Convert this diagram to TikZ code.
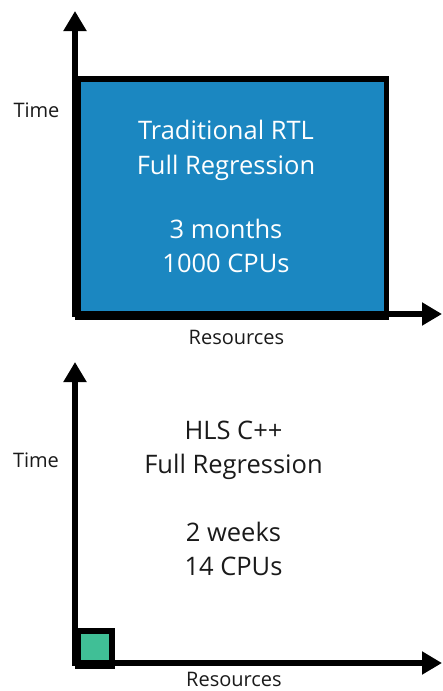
\documentclass[tikz,border=0pt]{standalone}
\usepackage{fontspec}
\setmainfont{Open Sans}
\usetikzlibrary{arrows.meta}
\definecolor{rtlblue}{RGB}{27,135,193}
\definecolor{hlsgreen}{RGB}{64,191,150}
\definecolor{txtdark}{RGB}{26,26,26}
\tikzset{
  axis/.style={line width=5.5pt, line join=miter, {Triangle[width=22pt,length=20pt]}-{Triangle[width=22pt,length=20pt]}},
  bigtext/.style={anchor=base, inner sep=0pt, font=\fontsize{25.5}{30}\selectfont},
  labeltext/.style={anchor=base, inner sep=0pt, text=txtdark, font=\fontsize{20}{24}\selectfont},
}
\begin{document}
\begin{tikzpicture}[x=1pt,y=-1pt]
\useasboundingbox (0,0) rectangle (442,691);
% top chart
\coordinate (ytip1) at (75,11);
\coordinate (xtip1) at (442,314);
\node[draw, fill=rtlblue, line width=5.5pt, line join=miter, inner sep=0pt, anchor=north west,
      minimum width=308.5pt, minimum height=238pt] (box1) at (75,76) {};
\draw[axis] (ytip1) |- (xtip1);
\node[bigtext, text=white] (t1) at (226,139) {Traditional RTL};
\node[bigtext, text=white] (t2) at (226,174) {Full Regression};
\node[bigtext, text=white] (t3) at (226,238) {3 months};
\node[bigtext, text=white] (t4) at (226,272) {1000 CPUs};
\node[labeltext] (time1) at (36.5,117) {Time};
\node[labeltext] (res1) at (236.5,344) {Resources};
% bottom chart
\coordinate (ytip2) at (75,362);
\coordinate (xtip2) at (442,663);
\node[draw, fill=hlsgreen, line width=5.5pt, line join=miter, inner sep=0pt, anchor=north west,
      minimum width=34pt, minimum height=35pt] (box2) at (75,628) {};
\draw[axis] (ytip2) |- (xtip2);
\node[bigtext, text=txtdark] (b1) at (233.5,439) {HLS C++};
\node[bigtext, text=txtdark] (b2) at (233.5,473) {Full Regression};
\node[bigtext, text=txtdark] (b3) at (233.5,541) {2 weeks};
\node[bigtext, text=txtdark] (b4) at (233.5,575) {14 CPUs};
\node[labeltext] (time2) at (36,467) {Time};
\node[labeltext] (res2) at (234,686) {Resources};
\end{tikzpicture}
\end{document}
